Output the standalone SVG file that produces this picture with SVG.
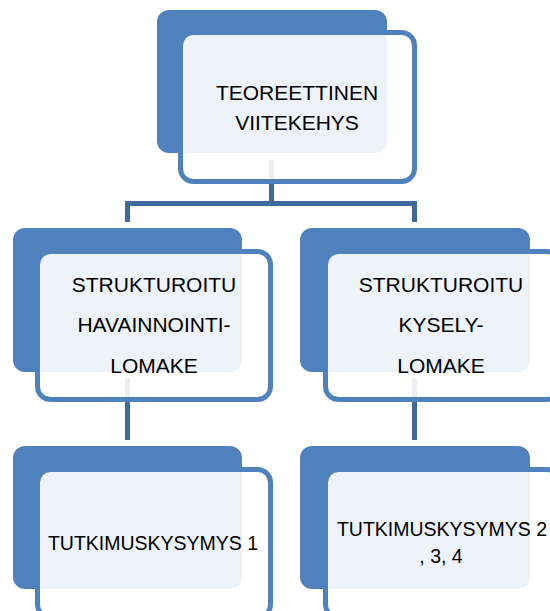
<svg xmlns="http://www.w3.org/2000/svg" width="550" height="611" viewBox="0 0 550 611">
  <style>
    .back { fill: #4f81bd; }
    .front { fill: #ffffff; fill-opacity: 0.9; stroke: #4f81bd; stroke-width: 5; }
    .conn { fill: none; stroke: #3f6a9e; stroke-width: 5; stroke-linejoin: miter; }
    .t { font-family: "Liberation Sans", Arial, sans-serif; font-size: 21px; fill: #000000; text-anchor: middle; }
    .s { font-size: 19.5px; }
  </style>
  <rect width="550" height="611" fill="#ffffff"/>
  <g id="connectors">
    <path class="conn" d="M271.5 160 V203.5 M127.5 222 V203.5 H414.5 V222"/>
    <path class="conn" d="M127.5 378 V440"/>
    <path class="conn" d="M414.5 378 V440"/>
  </g>
  <g id="node-teoreettinen">
    <rect class="back" x="157" y="10" width="230" height="143" rx="12"/>
    <rect class="front" x="180.5" y="32.5" width="234" height="149" rx="13"/>
    <text class="t" x="297" y="100">TEOREETTINEN</text>
    <text class="t" x="297" y="130">VIITEKEHYS</text>
  </g>
  <g id="node-havainnointi">
    <rect class="back" x="13" y="228" width="229" height="144" rx="12"/>
    <rect class="front" x="37.5" y="251.5" width="233" height="148" rx="13"/>
    <text class="t" x="154" y="292">STRUKTUROITU</text>
    <text class="t" x="154" y="332">HAVAINNOINTI-</text>
    <text class="t" x="154" y="373">LOMAKE</text>
  </g>
  <g id="node-kysely">
    <rect class="back" x="300" y="228" width="230" height="144" rx="12"/>
    <rect class="front" x="325.5" y="251.5" width="234" height="148" rx="13"/>
    <text class="t" x="441" y="292">STRUKTUROITU</text>
    <text class="t" x="441" y="332">KYSELY-</text>
    <text class="t" x="441" y="373">LOMAKE</text>
  </g>
  <g id="node-tk1">
    <rect class="back" x="13" y="446" width="229" height="143" rx="12"/>
    <rect class="front" x="37.5" y="469.5" width="233" height="148" rx="13"/>
    <text class="t s" x="153" y="550">TUTKIMUSKYSYMYS 1</text>
  </g>
  <g id="node-tk234">
    <rect class="back" x="300" y="446" width="230" height="143" rx="12"/>
    <rect class="front" x="325.5" y="469.5" width="234" height="148" rx="13"/>
    <text class="t s" x="442" y="536">TUTKIMUSKYSYMYS 2</text>
    <text class="t s" x="441" y="563">, 3, 4</text>
  </g>
</svg>
